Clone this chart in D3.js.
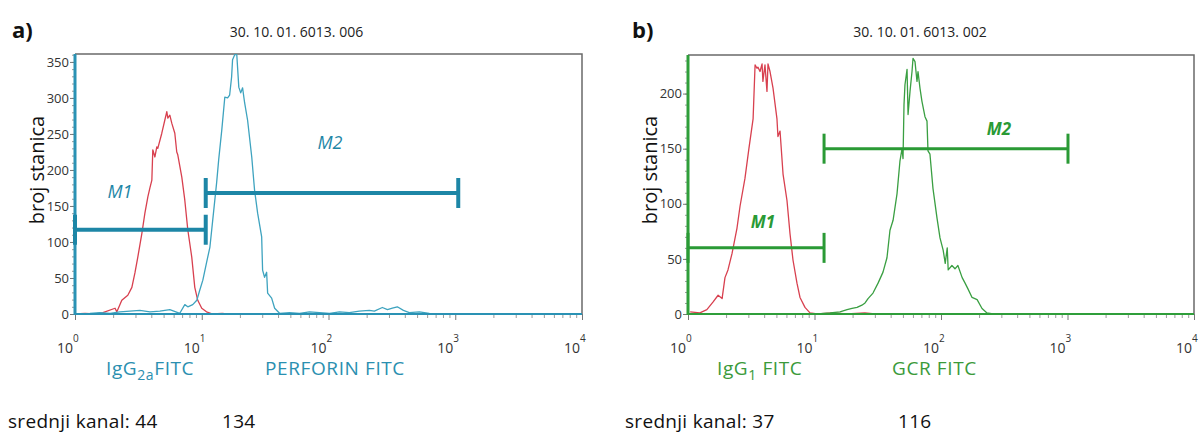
<!DOCTYPE html>
<html><head><meta charset="utf-8">
<script src="https://cdn.jsdelivr.net/npm/d3@7"></script>
<style>body{margin:0;background:#fff} svg{display:block;font-family:"Open Sans",sans-serif}</style>
</head><body><svg id="c" width="1204" height="434"></svg>
<script>
// ---------- DATA ----------
// Panel a: isotype control (IgG2a FITC), red
const isoA = [[1.0,0],[1.2,1],[1.44,0],[1.66,2],[2.07,8],[2.14,3],[2.34,19],[2.61,26],[2.81,37],[2.97,57],[3.13,79],[3.37,112],[3.56,140],[3.76,163],[3.90,175],[4.04,186],[4.11,228],[4.27,218],[4.42,232],[4.50,230],[4.84,251],[5.11,269],[5.30,281],[5.40,272],[5.60,276],[5.80,265],[6.13,251],[6.35,225],[6.47,221],[6.96,190],[7.35,158],[7.76,117],[8.34,79],[8.81,37],[9.30,19],[10.0,8],[10.9,3],[12.2,0],[14.5,1],[16,0]];
// Panel a: PERFORIN FITC, teal
const perfA = [[1.0,0],[1.31,1],[1.57,2],[1.89,1],[2.26,3],[2.71,4],[3.25,5],[3.90,3],[4.67,4],[5.60,6],[6.71,1],[7.35,13],[7.76,10],[8.49,13],[9.14,19],[9.64,33],[10.2,47],[10.9,71],[11.6,93],[12.2,130],[13.1,182],[13.6,214],[14.4,256],[15.2,301],[16.0,300],[16.6,304],[17.2,329],[17.5,353],[18.2,360],[18.9,360],[19.6,315],[20.3,307],[21.0,314],[21.8,293],[23.0,269],[24.8,218],[26.1,172],[27.6,140],[29.7,107],[30.2,61],[31.3,51],[32.5,58],[33.1,29],[35.6,22],[37.6,8],[41.1,1],[49.3,2],[59.1,1],[70.8,3],[85,2],[102,1],[122,3],[146,2],[175,4],[210,5],[230,4],[266,9],[292,6],[319,8],[349,10],[390,5],[434,2],[521,3],[624,1],[748,0]];
// Panel b: isotype control (IgG1 FITC), red
const isoB = [[1.04,2],[1.24,1],[1.41,4],[1.58,11],[1.73,17],[1.86,14],[1.96,33],[2.07,40],[2.23,55],[2.44,78],[2.58,98],[2.82,123],[3.03,150],[3.27,177],[3.39,226],[3.51,223],[3.57,224],[3.71,220],[3.85,227],[3.91,211],[4.06,226],[4.21,202],[4.29,227],[4.45,220],[4.70,205],[5.05,177],[5.14,161],[5.34,166],[5.64,127],[6.06,103],[6.40,73],[6.76,49],[7.27,28],[7.68,15],[8.41,6],[9.21,1],[10.5,0],[14,1],[18,0],[25,1],[30,0]];
// Panel b: GCR FITC, green
const gcrB = [[10.5,0],[13.3,1],[15.9,2],[18.1,4],[19.8,5],[21.7,6],[23.7,8],[25.1,10],[26.5,14],[29.0,19],[31.8,28],[34.8,38],[37.4,51],[39.5,76],[41.8,85],[44.9,109],[47.4,139],[49.2,150],[50.1,141],[51.0,190],[51.9,208],[53.9,222],[54.9,181],[56.9,202],[59.0,220],[60.1,232],[62.3,229],[64.6,211],[65.8,220],[68.2,205],[70.7,193],[74.7,179],[77.5,175],[78.9,148],[81.8,145],[86.4,114],[93.0,87],[98.2,69],[104,58],[108,46],[112,60],[114,40],[122,44],[129,41],[136,44],[147,33],[155,28],[163,23],[176,15],[193,13],[211,5],[231,1],[258,0]];

const xTickExps = [0,1,2,3,4];
const yTicksA = [0,50,100,150,200,250,300,350];
const yTicksB = [0,50,100,150,200];
// gate markers
const markersA = [{name:"M1", from:1, to:10.75, level:117}, {name:"M2", from:10.75, to:1056, level:168}];
const markersB = [{name:"M1", from:1, to:11.9, level:60}, {name:"M2", from:11.9, to:1009, level:150}];
const titles = ["30. 10. 01. 6013. 006", "30. 10. 01. 6013. 002"];
const meanLabel = "srednji kanal:";
const meansA = ["44", "134"];
const meansB = ["37", "116"];

// ---------- DRAW ----------
const svg = d3.select("#c");

function panel(o){
  const g = svg.append("g");
  const x = d3.scaleLog().domain([1,10000]).range([o.x0,o.x1]);
  const y = d3.scaleLinear().domain([0,o.ymax]).range([o.yb,o.yt]);

  g.append("path").attr("d",`M${o.x0},${o.yt}H${o.x1}V${o.yb}`).attr("fill","none").attr("stroke","#6a6a6a").attr("stroke-width",1.5);

  const yMinor = g.append("g").attr("transform",`translate(${o.x0},0)`)
    .call(d3.axisLeft(y).tickValues(d3.range(0,o.ymax,10)).tickSize(3).tickFormat(""));
  yMinor.select(".domain").remove();
  yMinor.selectAll("line").attr("stroke","#9a9a9a");
  const yMajor = g.append("g").attr("transform",`translate(${o.x0},0)`)
    .call(d3.axisLeft(y).tickValues(o.yTicks).tickSize(5).tickPadding(1));
  yMajor.select(".domain").remove();
  yMajor.selectAll("line").attr("stroke","#777");
  yMajor.selectAll("text").attr("font-size",13).attr("fill","#333").attr("font-family","Open Sans");

  const minorVals = [];
  for(let e=0;e<4;e++) for(let k=2;k<10;k++) minorVals.push(k*Math.pow(10,e));
  const xMinor = g.append("g").attr("transform",`translate(0,${o.yb})`)
    .call(d3.axisBottom(x).tickValues(minorVals).tickSize(4).tickFormat(""));
  xMinor.select(".domain").remove();
  xMinor.selectAll("line").attr("stroke","#9a9a9a");
  const xMajor = g.append("g").attr("transform",`translate(0,${o.yb})`)
    .call(d3.axisBottom(x).tickValues(xTickExps.map(e=>Math.pow(10,e))).tickSize(6).tickFormat(""));
  xMajor.select(".domain").remove();
  xMajor.selectAll("line").attr("stroke","#777");
  xTickExps.forEach(e=>{
    const px = x(Math.pow(10,e));
    g.append("text").attr("x",px-2).attr("y",o.yb+39).attr("text-anchor","end")
      .attr("font-size",14).attr("fill","#333").text("10");
    g.append("text").attr("x",px-2).attr("y",o.yb+28).attr("font-size",10).attr("fill","#333").text(String(e));
  });

  const line = d3.line().x(d=>x(d[0])).y(d=>y(d[1])).curve(d3.curveLinear);
  o.curves.forEach(c=>{
    g.append("path").datum(c.data).attr("d",line).attr("fill","none").attr("stroke",c.color).attr("stroke-width",1.3).attr("stroke-linejoin","round");
  });

  g.append("line").attr("x1",o.x0).attr("x2",o.x1).attr("y1",y(0)).attr("y2",y(0)).attr("stroke",o.axisColor).attr("stroke-width",2.2);
  g.append("line").attr("x1",o.x0).attr("x2",o.x0).attr("y1",o.yt).attr("y2",y(0)+1).attr("stroke",o.axisColor).attr("stroke-width",3);

  o.markers.forEach(m=>{
    const yy = y(m.level);
    g.append("line").attr("x1",x(m.from)).attr("x2",x(m.to)).attr("y1",yy).attr("y2",yy).attr("stroke",o.markColor).attr("stroke-width",o.markW);
    [m.from,m.to].forEach(v=>{
      g.append("line").attr("x1",x(v)).attr("x2",x(v)).attr("y1",yy-15).attr("y2",yy+15).attr("stroke",o.markColor).attr("stroke-width",o.markW);
    });
  });
  o.mLabels.forEach(l=>{
    g.append("text").attr("x",l.x).attr("y",l.y).attr("text-anchor","middle").attr("font-size",o.mSize)
      .attr("font-style","italic").attr("font-weight",o.mWeight).attr("fill",o.markColor).text(l.t);
  });

  g.append("text").attr("x",o.letterX).attr("y",38).attr("font-size",22).attr("font-weight","bold").attr("fill","#111").text(o.letter);
  g.append("text").attr("x",(o.x0+o.x1)/2+(o.titleDx||0)).attr("y",37).attr("text-anchor","middle").attr("font-size",14).attr("fill","#222").text(o.title);
  g.append("text").attr("transform",`translate(${o.ylabX},170) rotate(-90)`).attr("text-anchor","middle").attr("font-size",20).attr("fill","#111").text("broj stanica");

  o.subs.forEach(s=>{
    const t = g.append("text").attr("x",s.x).attr("y",375).attr("font-size",19).attr("letter-spacing",0.6).attr("fill",s.color);
    t.append("tspan").text(s.a);
    if(s.sub){ t.append("tspan").attr("font-size",14).attr("dy",5).text(s.sub); t.append("tspan").attr("dy",-5).text(s.b); }
  });
  g.append("text").attr("x",o.meanX).attr("y",428).attr("font-size",19).attr("letter-spacing",0.3).attr("fill","#111").text(meanLabel+" "+o.means[0]);
  g.append("text").attr("x",o.mean2X).attr("y",428).attr("font-size",19).attr("letter-spacing",0.3).attr("fill","#111").text(o.means[1]);
}

panel({x0:75,x1:582,yt:54,yb:314,ymax:361,yTicks:yTicksA,
  curves:[{data:isoA,color:"#d8404f"},{data:perfA,color:"#3ea3bf"}],
  axisColor:"#2a92b4", markColor:"#1d86a6", markW:4, mWeight:"normal", mSize:18, markers:markersA,
  mLabels:[{t:"M1",x:120,y:198},{t:"M2",x:330,y:149}],
  letter:"a)", letterX:12, title:titles[0], titleDx:-32, ylabX:44,
  subs:[{a:"IgG",sub:"2a",b:"FITC",x:106,color:"#2a8fb0"},{a:"PERFORIN FITC",x:265,color:"#2a8fb0"}],
  means:meansA, meanX:8, mean2X:222});

panel({x0:688,x1:1194,yt:55,yb:314,ymax:235,yTicks:yTicksB,
  curves:[{data:isoB,color:"#d8404f"},{data:gcrB,color:"#3a9f42"}],
  axisColor:"#2f9e3a", markColor:"#2a9a35", markW:3, mWeight:"bold", mSize:17, markers:markersB,
  mLabels:[{t:"M1",x:763,y:228},{t:"M2",x:999,y:135}],
  letter:"b)", letterX:632, title:titles[1], titleDx:-21, ylabX:657,
  subs:[{a:"IgG",sub:"1",b:" FITC",x:717,color:"#3a9a3a"},{a:"GCR FITC",x:892,color:"#3a9a3a"}],
  means:meansB, meanX:625, mean2X:898});
</script></body></html>
